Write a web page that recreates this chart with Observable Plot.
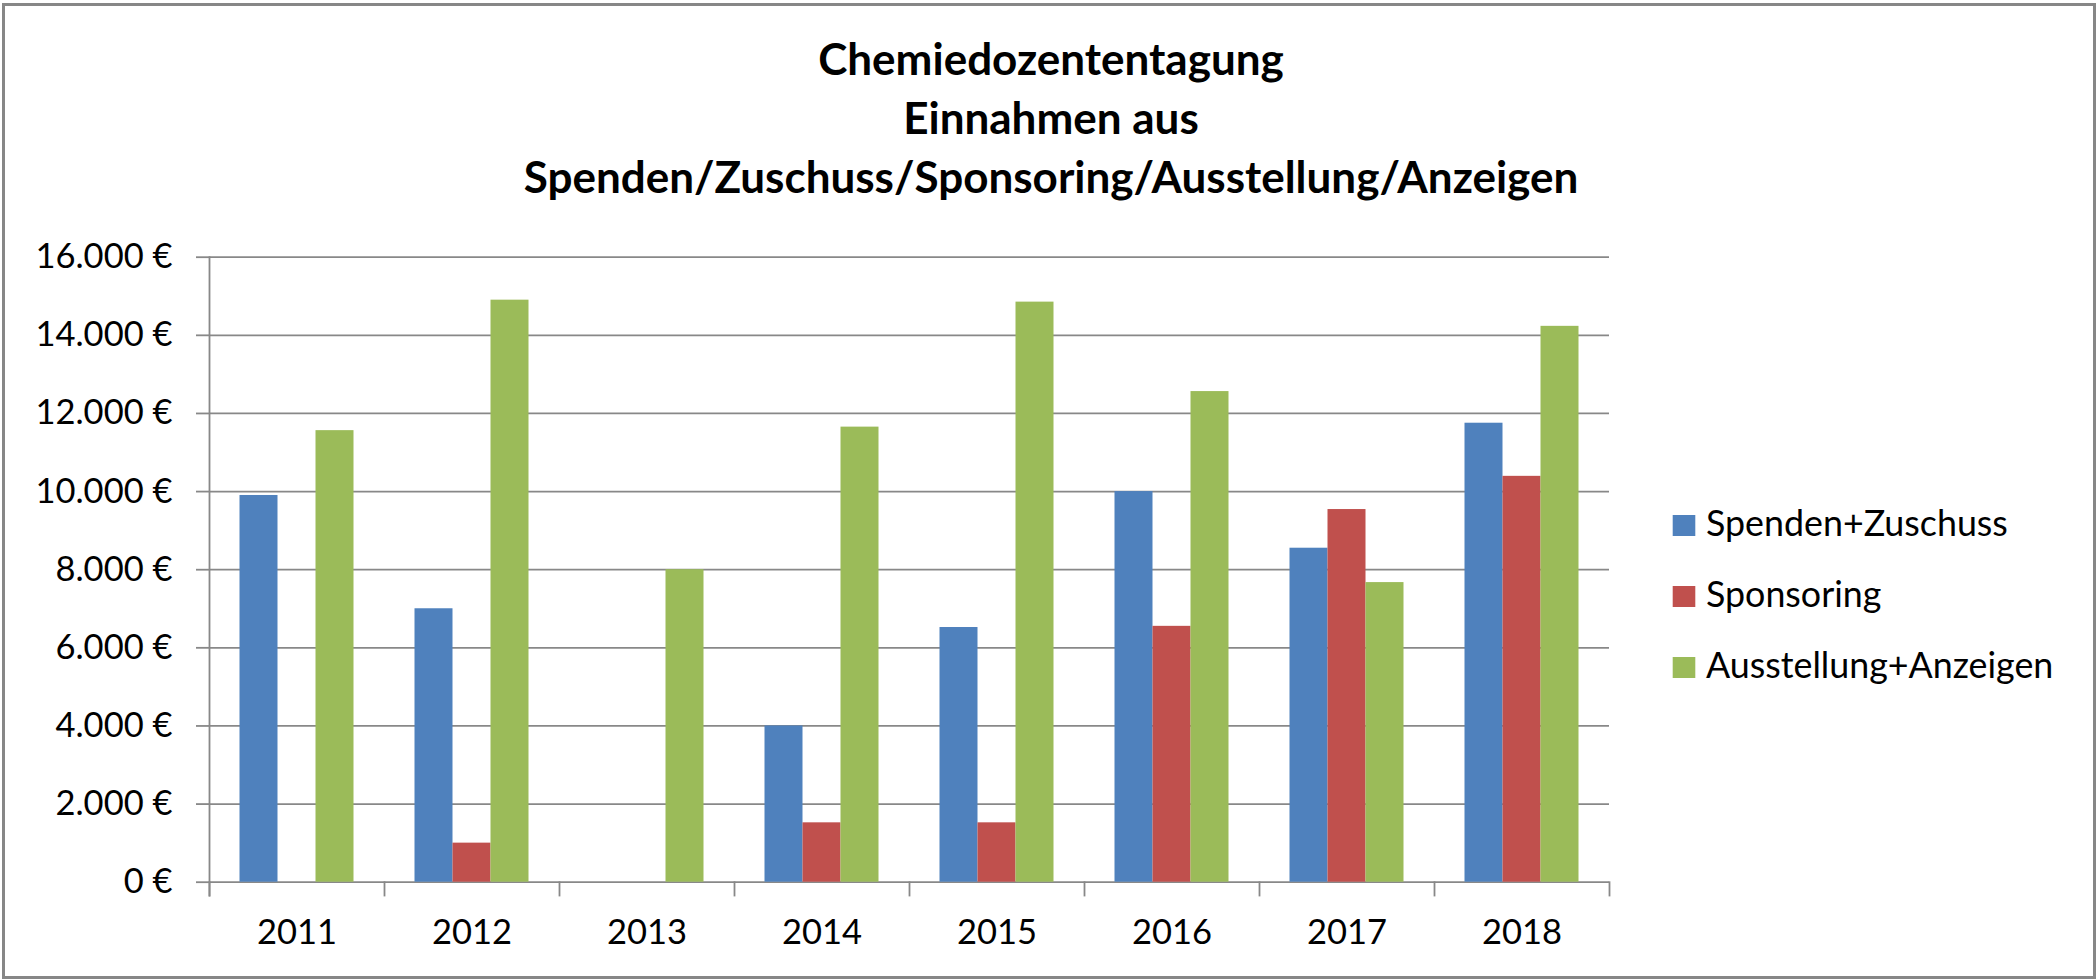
<!DOCTYPE html>
<html>
<head>
<meta charset="utf-8">
<script src="https://cdn.jsdelivr.net/npm/d3@7"></script>
<script src="https://cdn.jsdelivr.net/npm/@observablehq/plot@0.6"></script>
<style>
  html, body { margin: 0; padding: 0; background: #fff; }
  #wrap { position: relative; width: 2097px; height: 980px; overflow: hidden; background: #fff; }
  #border { position: absolute; left: 1.5px; top: 2.5px; width: 2094.5px; height: 976px; box-sizing: border-box; border: 3px solid #878787; }
  #overlay { position: absolute; left: 0; top: 0; }
  #chart { position: absolute; left: 0; top: 0; }
</style>
</head>
<body>
<div id="wrap">
  <div id="chart"></div>
  <svg id="overlay" width="2097" height="980"></svg>
  <div id="border"></div>
</div>
<script>
// ---- data ----
const years = ["2011", "2012", "2013", "2014", "2015", "2016", "2017", "2018"];
const series = ["Spenden+Zuschuss", "Sponsoring", "Ausstellung+Anzeigen"];
const spendenZuschuss = [9900, 7000, 0, 4000, 6520, 10000, 8550, 11750];
const sponsoring = [0, 1000, 0, 1520, 1520, 6550, 9540, 10390];
const ausstellungAnzeigen = [11560, 14900, 8000, 11650, 14850, 12560, 7670, 14230];
const yTicks = [0, 2000, 4000, 6000, 8000, 10000, 12000, 14000, 16000];
const yTickLabels = ["0 €", "2.000 €", "4.000 €", "6.000 €", "8.000 €", "10.000 €", "12.000 €", "14.000 €", "16.000 €"];
const titleLines = ["Chemiedozententagung", "Einnahmen aus", "Spenden/Zuschuss/Sponsoring/Ausstellung/Anzeigen"];
const colors = ["#4F81BD", "#C0504D", "#9BBB59"];

const seriesValues = [spendenZuschuss, sponsoring, ausstellungAnzeigen];
const data = years.flatMap((year, i) => series.map((s, k) => ({year, series: s, value: seriesValues[k][i]})));

// ---- layout ----
const W = 2097, H = 980;
const mTop = 256.7, mBottom = 98.3, mLeft = 206.5, mRight = 485.5;
const plotH = H - mTop - mBottom;
const grid = "#888888";
const gw = 1.8;
const font = "Lato, 'Open Sans', sans-serif";

const chart = Plot.plot({
  width: W,
  height: H,
  marginTop: mTop,
  marginBottom: mBottom,
  marginLeft: mLeft,
  marginRight: mRight,
  style: {fontFamily: font, fontSize: "34.5px", color: "#000", background: "transparent", overflow: "visible"},
  fx: {domain: years, paddingInner: 0, paddingOuter: 0, label: null},
  x: {domain: series, paddingInner: 0, paddingOuter: 0.75, axis: null},
  y: {domain: [0, 16000], label: null},
  color: {domain: series, range: colors},
  marks: [
    Plot.ruleY(yTicks, {stroke: grid, strokeWidth: gw}),
    Plot.barY(data, {fx: "year", x: "series", y: "value", fill: "series"}),
    Plot.axisY(yTicks, {
      tickSize: 13, tickPadding: 24, stroke: grid, strokeWidth: gw, fill: "#000", label: null,
      tickFormat: (d) => yTickLabels[yTicks.indexOf(d)]
    }),
    Plot.axisFx({anchor: "bottom", tickSize: 0, tickPadding: 37, fill: "#000", label: null}),
    Plot.frame({anchor: "left", facetAnchor: "left", insetBottom: -13.3, stroke: grid, strokeWidth: gw}),
    Plot.frame({anchor: "left", insetTop: plotH, insetBottom: -13.3, stroke: grid, strokeWidth: gw}),
    Plot.frame({anchor: "right", facetAnchor: "right", insetTop: plotH, insetBottom: -13.3, stroke: grid, strokeWidth: gw})
  ]
});
document.getElementById("chart").appendChild(chart);

// ---- title & legend overlay ----
const ov = d3.select("#overlay");
ov.selectAll("text.title")
  .data(titleLines)
  .join("text")
  .attr("class", "title")
  .attr("x", 1051)
  .attr("y", (d, i) => 75 + i * 59)
  .attr("text-anchor", "middle")
  .attr("font-family", font)
  .attr("font-weight", "bold")
  .attr("font-size", 44)
  .attr("fill", "#000")
  .text(d => d);

const lg = ov.selectAll("g.leg")
  .data(series)
  .join("g")
  .attr("class", "leg")
  .attr("transform", (d, i) => `translate(0, ${536 + i * 71})`);
lg.append("rect")
  .attr("x", 1672.7).attr("y", -21).attr("width", 22.6).attr("height", 21)
  .attr("fill", (d, i) => colors[i]);
lg.append("text")
  .attr("x", 1706).attr("y", 0)
  .attr("font-family", font)
  .attr("font-size", 35.8)
  .attr("fill", "#000")
  .text(d => d);
</script>
</body>
</html>
